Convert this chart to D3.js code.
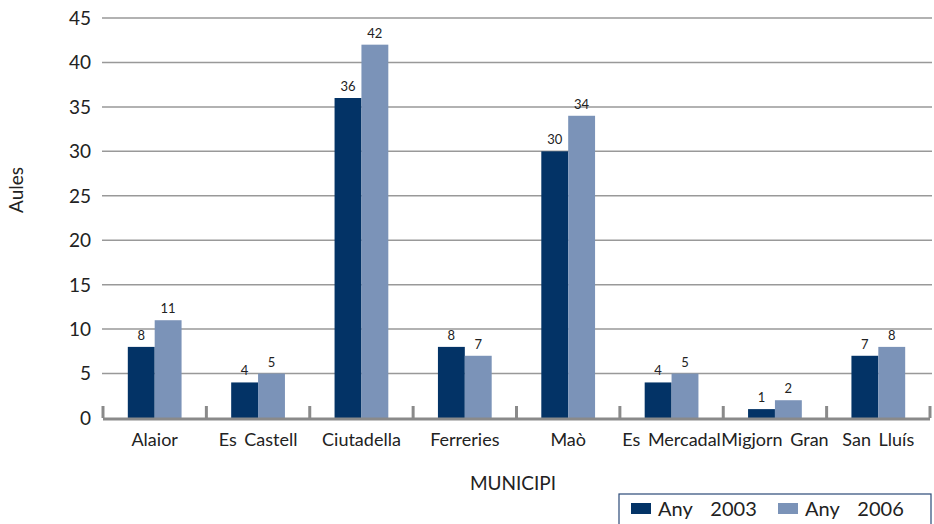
<!DOCTYPE html>
<html>
<head>
<meta charset="utf-8">
<script src="https://cdn.jsdelivr.net/npm/d3@7"></script>
<style>
  body { margin: 0; background: #fff; }
  svg { display: block; font-family: Lato, "Open Sans", sans-serif; }
</style>
</head>
<body>
<svg id="chart" width="934" height="524"></svg>
<script>
// data
var municipis = ["Alaior", "Es Castell", "Ciutadella", "Ferreries", "Maò", "Es Mercadal", "Migjorn Gran", "San Lluís"];
var any2003 = [8, 4, 36, 8, 30, 4, 1, 7];
var any2006 = [11, 5, 42, 7, 34, 5, 2, 8];
var series = ["Any 2003", "Any 2006"];
var yTicks = [0, 5, 10, 15, 20, 25, 30, 35, 40, 45];

var colors = ["#033366", "#7b93b8"];

var svg = d3.select("#chart");
var margin = { left: 103, right: 4, top: 18, bottom: 106 };
var width = 934 - margin.left - margin.right;
var height = 524 - margin.top - margin.bottom;

var g = svg.append("g")
    .attr("transform", "translate(" + margin.left + "," + margin.top + ")");

var x = d3.scaleBand()
    .domain(municipis)
    .range([0, width])
    .paddingInner(0.48)
    .paddingOuter(0.24);

var x1 = d3.scaleBand()
    .domain(series)
    .range([0, x.bandwidth()]);

var y = d3.scaleLinear()
    .domain([0, 45])
    .range([height, 0]);

// gridlines
g.append("g")
    .selectAll("line")
    .data(yTicks.slice(1))
    .join("line")
    .attr("x1", -1)
    .attr("x2", width + 2)
    .attr("y1", function (d) { return y(d); })
    .attr("y2", function (d) { return y(d); })
    .attr("stroke", "#999")
    .attr("stroke-width", 1.5);

// y tick labels
g.append("g")
    .selectAll("text")
    .data(yTicks)
    .join("text")
    .attr("x", -12)
    .attr("y", function (d) { return y(d); })
    .attr("dy", "0.36em")
    .attr("text-anchor", "end")
    .attr("font-size", 19)
    .attr("fill", "#222")
    .text(function (d) { return d; });

// bars
var groups = g.append("g")
    .selectAll("g")
    .data(municipis)
    .join("g")
    .attr("transform", function (d) { return "translate(" + x(d) + ",0)"; });

var rows = function (d, i) {
    return [
        { key: series[0], value: any2003[i] },
        { key: series[1], value: any2006[i] }
    ];
};

groups.selectAll("rect")
    .data(rows)
    .join("rect")
    .attr("x", function (d) { return x1(d.key); })
    .attr("y", function (d) { return y(d.value); })
    .attr("width", x1.bandwidth())
    .attr("height", function (d) { return height - y(d.value); })
    .attr("fill", function (d, i) { return colors[i]; });

groups.selectAll("text")
    .data(rows)
    .join("text")
    .attr("x", function (d) { return x1(d.key) + x1.bandwidth() / 2; })
    .attr("y", function (d) { return y(d.value) - 7; })
    .attr("text-anchor", "middle")
    .attr("font-size", 13)
    .attr("fill", "#222")
    .text(function (d) { return d.value; });

// x axis line and inner ticks
var step = x.step();
var tickXs = d3.range(municipis.length + 1).map(function (i) { return i * step; });

g.append("line")
    .attr("x1", 0)
    .attr("x2", width)
    .attr("y1", height + 1)
    .attr("y2", height + 1)
    .attr("stroke", "#8a8a8a")
    .attr("stroke-width", 3);

g.append("g")
    .selectAll("line")
    .data(tickXs)
    .join("line")
    .attr("x1", function (d) { return d; })
    .attr("x2", function (d) { return d; })
    .attr("y1", height - 12)
    .attr("y2", height)
    .attr("stroke", "#8a8a8a")
    .attr("stroke-width", 3);

// category labels
g.append("g")
    .selectAll("text")
    .data(municipis)
    .join("text")
    .attr("x", function (d) { return x(d) + x.bandwidth() / 2; })
    .attr("y", height + 28)
    .attr("text-anchor", "middle")
    .attr("font-size", 18)
    .attr("word-spacing", 3)
    .attr("fill", "#222")
    .text(function (d) { return d; });

// axis titles
svg.append("text")
    .attr("transform", "translate(23,190) rotate(-90)")
    .attr("text-anchor", "middle")
    .attr("font-size", 19)
    .attr("fill", "#222")
    .text("Aules");

svg.append("text")
    .attr("x", 513)
    .attr("y", 490)
    .attr("text-anchor", "middle")
    .attr("font-size", 19)
    .attr("fill", "#222")
    .text("MUNICIPI");

// legend
var legend = svg.append("g").attr("transform", "translate(619,494)");
legend.append("rect")
    .attr("width", 312)
    .attr("height", 34)
    .attr("fill", "#fff")
    .attr("stroke", "#2b4a78")
    .attr("stroke-width", 1.2);

var items = legend.selectAll("g")
    .data(series)
    .join("g")
    .attr("transform", function (d, i) { return "translate(" + (12 + i * 147) + ",0)"; });

items.append("rect")
    .attr("y", 9)
    .attr("width", 20)
    .attr("height", 11)
    .attr("fill", function (d, i) { return colors[i]; });

items.append("text")
    .attr("x", 27)
    .attr("y", 22)
    .attr("font-size", 20)
    .attr("word-spacing", 13)
    .attr("fill", "#222")
    .text(function (d) { return d; });
</script>
</body>
</html>
